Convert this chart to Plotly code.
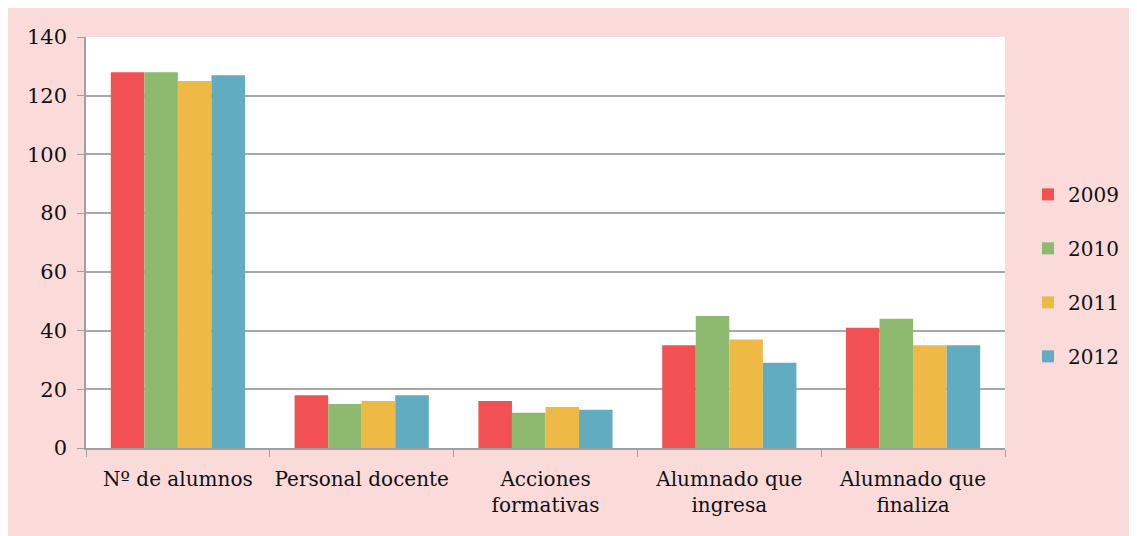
import plotly.graph_objects as go

categories = ["Nº de alumnos", "Personal docente", "Acciones<br>formativas",
              "Alumnado que<br>ingresa", "Alumnado que<br>finaliza"]
years = ["2009", "2010", "2011", "2012"]
v2009 = [128, 18, 16, 35, 41]
v2010 = [128, 15, 12, 45, 44]
v2011 = [125, 16, 14, 37, 35]
v2012 = [127, 18, 13, 29, 35]
colors = ["#F15152", "#8DBA6E", "#EEB944", "#62ACC1"]

FONT = "DejaVu Serif"

fig = go.Figure()
for i, (year, vals) in enumerate(zip(years, [v2009, v2010, v2011, v2012])):
    fig.add_trace(go.Bar(
        x=categories, y=vals, name=year,
        marker=dict(color=colors[i], line=dict(width=0)),
        legendgroup=year,
    ))

fig.update_layout(
    width=1137, height=536,
    margin=dict(l=78, r=140, t=29, b=96),
    paper_bgcolor="#FADBDA",
    plot_bgcolor="white",
    barmode="group",
    bargap=0.27,
    bargroupgap=0,
    font=dict(family=FONT, size=20, color="#111111"),
    legend=dict(x=1.025, y=0.42, xanchor="left", yanchor="middle",
                tracegroupgap=25, font=dict(family=FONT, size=20, color="#111111"),
                bgcolor="rgba(0,0,0,0)", itemwidth=30),
    showlegend=True,
)
fig.update_xaxes(
    showline=True, linecolor="#A0A0A0", linewidth=1.5,
    ticks="outside", tickson="boundaries", ticklen=7, tickcolor="#A0A0A0",
    showgrid=False,
    ticklabelstandoff=12,
    tickfont=dict(family=FONT, size=20, color="#111111"),
)
fig.update_yaxes(
    range=[0, 140], dtick=20,
    showline=True, linecolor="#A0A0A0", linewidth=1.5,
    ticks="outside", ticklen=7, tickcolor="#A0A0A0",
    gridcolor="#A8A8A8", gridwidth=1.5, zeroline=False,
    ticklabelstandoff=6,
    tickfont=dict(family=FONT, size=21, color="#111111"),
)

fig.write_html("out.html")
